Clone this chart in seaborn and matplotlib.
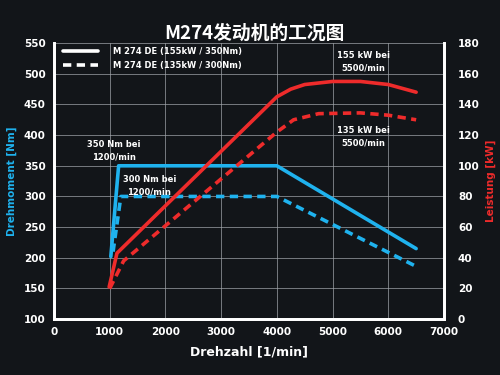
import numpy as np
import pandas as pd
import matplotlib
matplotlib.use("Agg")
import matplotlib.pyplot as plt
import seaborn as sns
from matplotlib.lines import Line2D

# torque curves (Nm)
rpm_t350 = [1020, 1160, 4000, 6500]
torque_350 = [202, 350, 350, 215]
rpm_t300 = [1060, 1200, 4000, 6500]
torque_300 = [210, 300, 300, 186]

# power curves (kW)
rpm_p155 = [990, 1130, 4000, 4250, 4500, 5000, 5500, 6000, 6500]
power_155 = [21, 43, 145, 150, 153, 155, 155, 153, 148]
rpm_p135 = [1000, 1250, 4000, 4300, 4750, 5500, 6000, 6500]
power_135 = [20, 38, 122, 130, 134, 134.5, 133, 130]

legend_labels = ["M 274 DE (155kW / 350Nm)", "M 274 DE (135kW / 300Nm)"]

bg = "#121519"
blue = "#1fb2ee"
red = "#ee2b2b"

sns.set_theme(style="dark", rc={"figure.facecolor": bg, "axes.facecolor": bg,
                                "axes.edgecolor": "white", "text.color": "white",
                                "xtick.color": "white", "ytick.color": "white"})
plt.rcParams['font.family'] = ['DejaVu Sans', 'Noto Sans CJK SC']

fig = plt.figure(figsize=(5, 3.75), dpi=100)
ax = fig.add_axes([0.108, 0.149, 0.78, 0.736])
ax2 = ax.twinx()

df_t1 = pd.DataFrame({"rpm": rpm_t350, "Nm": torque_350})
df_t2 = pd.DataFrame({"rpm": rpm_t300, "Nm": torque_300})
df_p1 = pd.DataFrame({"rpm": rpm_p155, "kW": power_155})
df_p2 = pd.DataFrame({"rpm": rpm_p135, "kW": power_135})

dash = (0, (2.3, 1.5))
sns.lineplot(data=df_t1, x="rpm", y="Nm", ax=ax, color=blue, lw=2.6, sort=False)
sns.lineplot(data=df_t2, x="rpm", y="Nm", ax=ax, color=blue, lw=2.6, sort=False, linestyle=dash)
sns.lineplot(data=df_p1, x="rpm", y="kW", ax=ax2, color=red, lw=2.6, sort=False)
sns.lineplot(data=df_p2, x="rpm", y="kW", ax=ax2, color=red, lw=2.6, sort=False, linestyle=dash)

ax.set_xlim(0, 7000)
ax.set_ylim(100, 550)
ax2.set_ylim(0, 180)
ax.set_xticks(range(0, 7001, 1000))
ax.set_yticks(range(100, 551, 50))
ax2.set_yticks(range(0, 181, 20))

ax.grid(True, color="#a4a8ae", lw=0.6, alpha=0.8)
ax2.grid(False)
ax.set_axisbelow(True)

for a in (ax, ax2):
    a.spines["top"].set_visible(False)
    for s in ("left", "right", "bottom"):
        a.spines[s].set_color("white")
        a.spines[s].set_linewidth(2)
    a.tick_params(length=0, labelsize=7.5)
    for lab in a.get_xticklabels() + a.get_yticklabels():
        lab.set_fontweight("bold")
ax.tick_params(axis="y", pad=6)
ax.tick_params(axis="x", pad=6)
ax2.tick_params(axis="y", pad=10)

ax.set_xlabel("Drehzahl [1/min]", color="white", fontsize=9, fontweight="bold", labelpad=6)
ax.set_ylabel("Drehmoment [Nm]", color=blue, fontsize=7.5, fontweight="bold", labelpad=5)
ax2.set_ylabel("Leistung [kW]", color=red, fontsize=7.5, fontweight="bold", labelpad=4)

fig.text(0.508, 0.912, "M274发动机的工况图", color="white", fontsize=13.5,
         fontweight="bold", ha="center", va="center",
         family=['Noto Sans CJK SC', 'DejaVu Sans'])

ann = dict(color="white", fontsize=6, fontweight="bold", ha="center", va="center",
           linespacing=1.5)
ax.text(1080, 374, "350 Nm bei\n1200/min", **ann)
ax.text(1710, 318, "300 Nm bei\n1200/min", **ann)
ax.text(5550, 519, "155 kW bei\n5500/min", **ann)
ax.text(5550, 398, "135 kW bei\n5500/min", **ann)

handles = [Line2D([], [], color="white", lw=2.6),
           Line2D([], [], color="white", lw=2.6, linestyle=dash)]
leg = ax.legend(handles, legend_labels, loc="upper left", bbox_to_anchor=(0.005, 1.012),
                frameon=False, fontsize=6, handlelength=4.2, handletextpad=1.8,
                labelspacing=0.55)
for t in leg.get_texts():
    t.set_color("white")
    t.set_fontweight("bold")

fig.savefig("out.png", dpi=100, facecolor=bg)
